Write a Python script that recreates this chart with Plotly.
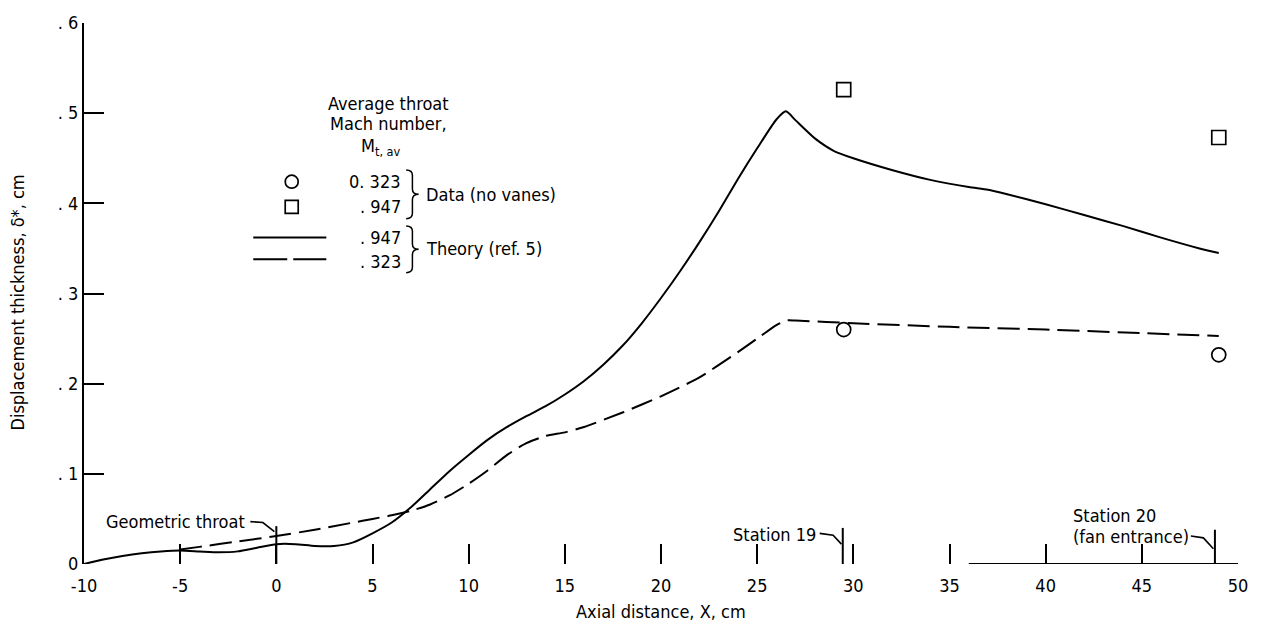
import plotly.graph_objects as go

# Theory (ref. 5), M_t,av = 0.947 : solid curve
theory_947_x = [-10, -9, -8, -7, -6, -5, -4, -3, -2, -1, 0, 1, 2, 3, 4, 5, 6, 7, 8, 9,
                10, 11, 12, 13, 14, 15, 16, 17, 18, 19, 20, 21, 22, 23, 24, 25, 26, 26.5,
                27, 28, 29, 30, 32, 34, 36, 37, 38, 40, 42, 44, 46, 48, 49]
theory_947_y = [0.000, 0.005, 0.009, 0.012, 0.014, 0.015, 0.014, 0.013, 0.014, 0.018,
                0.022, 0.022, 0.020, 0.020, 0.024, 0.034, 0.046, 0.063, 0.083, 0.103,
                0.121, 0.138, 0.152, 0.164, 0.175, 0.188, 0.203, 0.221, 0.242, 0.267,
                0.295, 0.325, 0.357, 0.391, 0.427, 0.461, 0.493, 0.502, 0.492, 0.472,
                0.458, 0.450, 0.437, 0.426, 0.418, 0.415, 0.410, 0.399, 0.387, 0.375,
                0.362, 0.350, 0.345]

# Theory (ref. 5), M_t,av = 0.323 : dashed curve
theory_323_x = [-5, -4, -2, 0, 2, 4, 5, 6, 7, 8, 9, 10, 11, 12, 13, 14, 15, 16, 18, 20,
                22, 24, 25, 26, 26.5, 27, 30, 35, 40, 45, 49]
theory_323_y = [0.016, 0.019, 0.025, 0.031, 0.038, 0.046, 0.050, 0.054, 0.059, 0.066,
                0.076, 0.089, 0.104, 0.121, 0.134, 0.142, 0.146, 0.152, 0.168, 0.186,
                0.207, 0.235, 0.250, 0.265, 0.270, 0.270, 0.267, 0.263, 0.260, 0.256,
                0.253]

# Data (no vanes)
data_323_x = [29.5, 49.0]
data_323_y = [0.260, 0.232]
data_947_x = [29.5, 49.0]
data_947_y = [0.526, 0.473]

x_ticks = [-10, -5, 0, 5, 10, 15, 20, 25, 30, 35, 40, 45, 50]
x_tick_text = ["-10", "-5", "0", "5", "10", "15", "20", "25", "30", "35", "40", "45", "50"]
y_ticks = [0, 0.1, 0.2, 0.3, 0.4, 0.5, 0.6]
y_tick_text = ["0", ". 1", ". 2", ". 3", ". 4", ". 5", ". 6"]

FONT = "DejaVu Sans Condensed, Liberation Sans Narrow, DejaVu Sans, sans-serif"
INK = "black"
FS = 18

fig = go.Figure()


def line_trace(x, y, dash=None, spline=True):
    ln = dict(color=INK, width=2)
    if dash:
        ln["dash"] = dash
    if spline:
        ln["shape"] = "spline"
        ln["smoothing"] = 0.6
    fig.add_trace(go.Scatter(x=x, y=y, mode="lines", line=ln,
                             showlegend=False, hoverinfo="skip"))


def marker_trace(x, y, symbol, size=14):
    fig.add_trace(go.Scatter(x=x, y=y, mode="markers",
                             marker=dict(symbol=symbol, size=size, color=INK,
                                         line=dict(width=1.7, color=INK)),
                             showlegend=False, hoverinfo="skip"))


line_trace(theory_947_x, theory_947_y)
line_trace(theory_323_x, theory_323_y, dash="22px,8px")
marker_trace(data_323_x, data_323_y, "circle-open")
marker_trace(data_947_x, data_947_y, "square-open")

# Key symbols
marker_trace([0.8], [0.424], "circle-open", 13)
marker_trace([0.8], [0.396], "square-open", 13)
line_trace([-1.2, 2.6], [0.362, 0.362], spline=False)
line_trace([-1.2, 2.6], [0.338, 0.338], dash="34px,6px", spline=False)

shapes = []


def seg(x0, y0, x1, y1, w=2):
    shapes.append(dict(type="line", xref="x", yref="y", x0=x0, y0=y0, x1=x1, y1=y1,
                       line=dict(color=INK, width=w)))


def leader(xs, ys):
    path = "M " + " L ".join(f"{a},{b}" for a, b in zip(xs, ys))
    shapes.append(dict(type="path", xref="x", yref="y", path=path,
                       line=dict(color=INK, width=1.6)))


def brace(x0, ytop, ybot, w=0.65, r=0.006):
    """Right-pointing curly brace spanning ytop..ybot."""
    xm = x0 + w / 2
    xt = x0 + w
    ym = (ytop + ybot) / 2
    path = (f"M {x0},{ytop} Q {xm},{ytop} {xm},{ytop - r} "
            f"L {xm},{ym + r} Q {xm},{ym} {xt},{ym} "
            f"Q {xm},{ym} {xm},{ym - r} "
            f"L {xm},{ybot + r} Q {xm},{ybot} {x0},{ybot}")
    shapes.append(dict(type="path", xref="x", yref="y", path=path,
                       line=dict(color=INK, width=1.5)))


# partial base line on the right
seg(36.0, 0, 50, 0)
# geometric throat marker and station markers
seg(0, 0.042, 0, -0.006)
seg(29.45, 0.040, 29.45, -0.008)
seg(48.8, 0.038, 48.8, -0.013)
leader([-1.35, -0.7, -0.1], [0.047, 0.046, 0.036])
leader([28.25, 28.95, 29.38], [0.034, 0.032, 0.022])
leader([47.55, 48.2, 48.72], [0.031, 0.029, 0.017])
brace(6.75, 0.437, 0.383)
brace(6.75, 0.375, 0.323)

ann = []


def text(x, y, s, anchor="left", size=FS):
    ann.append(dict(x=x, y=y, xref="x", yref="y", text=s, showarrow=False,
                    xanchor=anchor, yanchor="middle",
                    font=dict(family=FONT, size=size, color=INK)))


text(2.6, 0.511, "Average throat")
text(2.7, 0.488, "Mach number,")
text(4.3, 0.462, "M<sub>t, av</sub>")
text(6.6, 0.424, "0. 323", anchor="right")
text(6.6, 0.396, ". 947", anchor="right")
text(6.6, 0.362, ". 947", anchor="right")
text(6.6, 0.335, ". 323", anchor="right")
text(7.7, 0.410, "Data (no vanes)")
text(7.7, 0.350, "Theory (ref. 5)")
text(-1.5, 0.047, "Geometric throat", anchor="right")
text(28.15, 0.033, "Station 19", anchor="right")
text(41.3, 0.054, "Station 20")
text(41.3, 0.030, "(fan entrance)")
ann.append(dict(x=20, y=-0.087, xref="x", yref="paper", text="Axial distance, X, cm",
                showarrow=False, xanchor="center", yanchor="middle",
                font=dict(family=FONT, size=FS, color=INK)))
ann.append(dict(x=-0.058, y=0.29, xref="paper", yref="y", text="Displacement thickness, δ*, cm",
                showarrow=False, textangle=-90, xanchor="center", yanchor="middle",
                font=dict(family=FONT, size=FS, color=INK)))

fig.update_layout(
    width=1261, height=621,
    margin=dict(l=84, r=23, t=20, b=57),
    paper_bgcolor="white", plot_bgcolor="white",
    font=dict(family=FONT, size=FS, color=INK),
    shapes=shapes, annotations=ann, showlegend=False,
    xaxis=dict(range=[-10, 50], tickvals=x_ticks, ticktext=x_tick_text,
               ticks="inside", ticklen=20, tickwidth=2, tickcolor=INK,
               ticklabelstandoff=9,
               showline=False, showgrid=False, zeroline=False,
               tickfont=dict(family=FONT, size=FS, color=INK)),
    yaxis=dict(range=[0, 0.6], tickvals=y_ticks, ticktext=y_tick_text,
               ticks="inside", ticklen=20, tickwidth=2, tickcolor=INK,
               showline=True, linewidth=2, linecolor=INK,
               showgrid=False, zeroline=False,
               tickfont=dict(family=FONT, size=FS, color=INK)),
)

fig.write_html("out.html")
